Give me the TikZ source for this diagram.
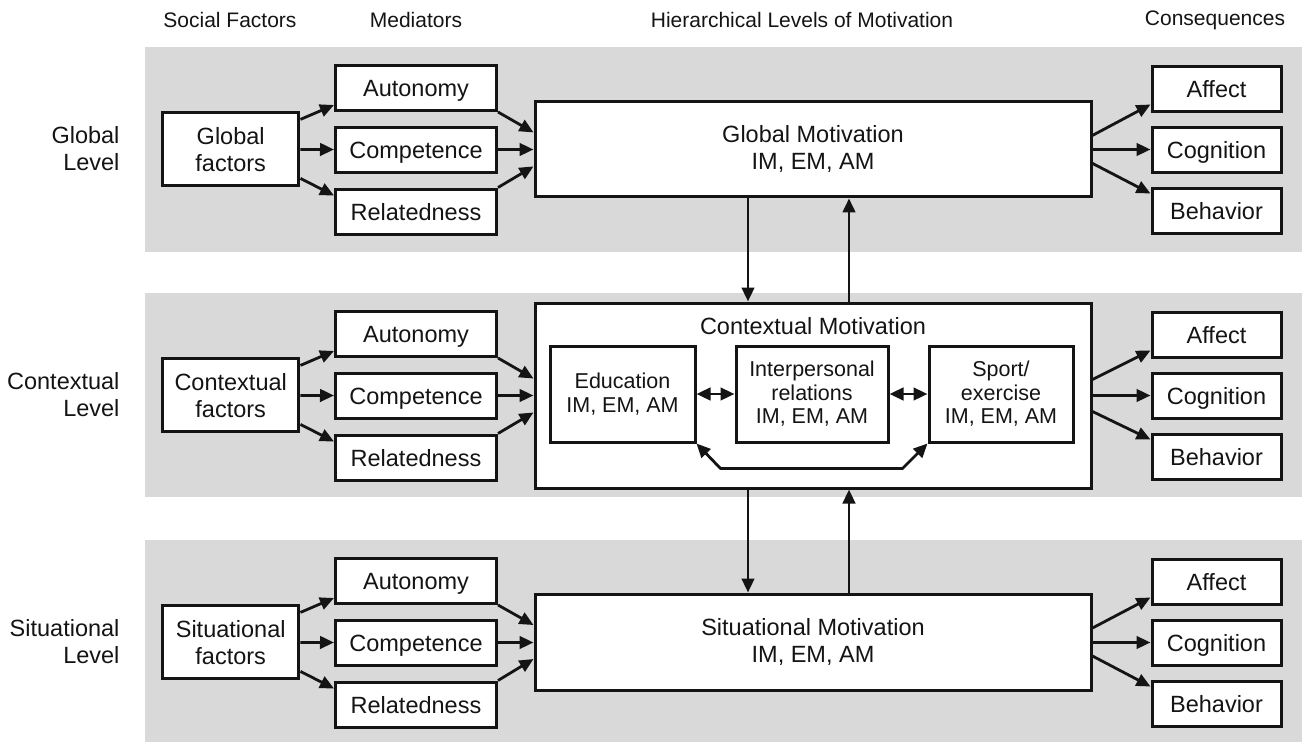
\documentclass[tikz,border=0pt]{standalone}
\usepackage{fontspec}
\setmainfont{Liberation Sans}
\usetikzlibrary{arrows.meta,calc}
\definecolor{band}{RGB}{217,217,217}
\definecolor{ink}{RGB}{20,20,20}

\begin{document}
\begin{tikzpicture}[x=1pt,y=-1pt,
  txt/.style={font=\fontsize{23.5}{27}\selectfont, text=ink, align=center},
  hdr/.style={font=\fontsize{21}{24}\selectfont, text=ink},
  box/.style={txt, draw=ink, fill=white, line width=3pt, inner sep=0pt},
  ibox/.style={box, font=\fontsize{21.5}{23.5}\selectfont},
  onebox/.style={box, text height=17pt, text depth=0pt},
  medbox/.style={onebox, minimum width=161pt, minimum height=45pt},
  conbox/.style={onebox, minimum width=129pt, minimum height=45pt},
  tip/.tip={Triangle[length=14pt,width=12.5pt]},
  arr/.style={draw=ink, line width=2.8pt, -tip},
  dbl/.style={draw=ink, line width=2.8pt, tip-tip},
]
\useasboundingbox (0,0) rectangle (1302,742);

% level bands
\fill[band] (145,47) rectangle (1302,252);
\fill[band] (145,293) rectangle (1302,497);
\fill[band] (145,540) rectangle (1302,742);

% column headings
\node[hdr] (h-soc) at (230,20) {Social Factors};
\node[hdr] (h-med) at (416,20) {Mediators};
\node[hdr] (h-hier) at (802,20) {Hierarchical Levels of Motivation};
\node[hdr] (h-con) at (1215,20) {Consequences};

% motivation boxes
\node[box, minimum width=556pt, minimum height=95pt] (g-m) at (813,149.4) {Global Motivation\\IM, EM, AM};
\node[box, minimum width=556pt, minimum height=185pt] (c-m) at (813,395.5) {};
\node[box, minimum width=556pt, minimum height=96pt] (s-m) at (813,642) {Situational Motivation\\IM, EM, AM};

% contextual motivation contents
\node[txt] (c-title) at (813,326) {Contextual Motivation};
\node[ibox, minimum width=145pt, minimum height=96pt] (edu) at (622.5,394) {Education\\IM, EM, AM};
\node[ibox, minimum width=152pt, minimum height=96pt] (ipr) at (812,394) {Interpersonal\\relations\\IM, EM, AM};
\node[ibox, minimum width=144pt, minimum height=96pt] (spt) at (1001,394) {Sport/\\exercise\\IM, EM, AM};
\draw[dbl] (edu.east) -- (ipr.west);
\draw[dbl] (ipr.east) -- (spt.west);
\draw[dbl] (edu.south east) -- ++(24,25) -- ([shift={(-25,25)}]spt.south west) -- (spt.south west);

% one row per level
\foreach \dy/\lv/\Name/\sp in {0/g/Global/14, 246/c/Contextual/16, 493/s/Situational/14} {
  \node[txt, anchor=east, align=right] (\lv-lab) at (123,148.5+\dy) {\Name\\Level};
  \node[box, minimum width=136.5pt, minimum height=73pt] (\lv-f) at (230.7,149.4+\dy) {\Name\\factors};
  \node[medbox] (\lv-a) at (416,88+\dy) {Autonomy};
  \node[medbox] (\lv-co) at (416,149.5+\dy) {Competence};
  \node[medbox] (\lv-r) at (416,211.5+\dy) {Relatedness};
  \node[conbox] (\lv-af) at (1216.5,88.5+\dy) {Affect};
  \node[conbox] (\lv-cg) at (1216.5,149.5+\dy) {Cognition};
  \node[conbox] (\lv-bh) at (1216.5,210.5+\dy) {Behavior};
  % factors to mediators
  \draw[arr] ([yshift=-8pt]\lv-f.north east) -- ([yshift=7pt]\lv-a.south west);
  \draw[arr] (\lv-f.east) -- (\lv-co.west);
  \draw[arr] ([yshift=9pt]\lv-f.south east) -- ([yshift=-8pt]\lv-r.north west);
  % mediators to motivation
  \draw[arr] (\lv-a.south east) -- ([yshift=17pt]\lv-m.west);
  \draw[arr] (\lv-co.east) -- (\lv-co.east -| \lv-m.west);
  \draw[arr] (\lv-r.north east) -- ([yshift=-17pt]\lv-m.west);
  % motivation to consequences
  \draw[arr] ([yshift=\sp pt]\lv-m.east) -- ([yshift=8pt]\lv-af.south west);
  \draw[arr] (\lv-cg.west -| \lv-m.east) -- (\lv-cg.west);
  \draw[arr] ([yshift=-\sp pt]\lv-m.east) -- ([yshift=-7pt]\lv-bh.north west);
}

% links between levels
\coordinate (dn) at (748,0);
\coordinate (up) at (849,0);
\draw[arr] (g-m.south -| dn) -- (c-m.north -| dn);
\draw[arr] (c-m.north -| up) -- (g-m.south -| up);
\draw[arr] (c-m.south -| dn) -- (s-m.north -| dn);
\draw[arr] (s-m.north -| up) -- (c-m.south -| up);
\end{tikzpicture}
\end{document}
